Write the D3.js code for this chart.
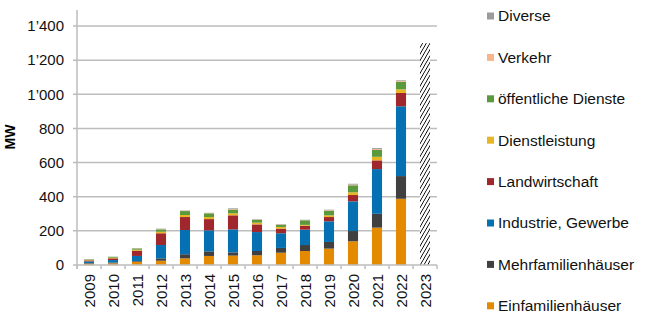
<!DOCTYPE html>
<html>
<head>
<meta charset="utf-8">
<script src="https://cdn.jsdelivr.net/npm/d3@7"></script>
<style>
  body { margin: 0; background: #fff; }
  svg { font-family: "Liberation Sans", Arial, sans-serif; }
</style>
</head>
<body>
<svg width="653" height="325"></svg>
<script>
const years = ["2009","2010","2011","2012","2013","2014","2015","2016","2017","2018","2019","2020","2021","2022","2023"];
const series = ["Einfamilienhäuser","Mehrfamilienhäuser","Industrie, Gewerbe","Landwirtschaft","Dienstleistung","öffentliche Dienste","Verkehr","Diverse"];
const colors = ["#e38a00","#404040","#0571b3","#a0282c","#e8b623","#5b9a3c","#f9b48a","#9b9b9b"];

// values per series, one per year (2023 only as forecast)
const einfamilien   = [8, 10, 19, 25, 39, 53, 55, 57, 72, 82, 96, 139, 219, 388, 0];
const mehrfamilien  = [3, 4, 4, 14, 24, 27, 19, 25, 28, 35, 39, 60, 81, 133, 0];
const industrie     = [10, 15, 30, 78, 142, 123, 135, 111, 86, 90, 121, 174, 262, 409, 0];
const landwirt      = [6, 10, 31, 69, 76, 66, 82, 45, 27, 23, 25, 37, 51, 78, 0];
const dienstleist   = [3, 4, 6, 9, 12, 12, 12, 10, 10, 5, 10, 16, 21, 21, 0];
const oeffentlich   = [3, 5, 7, 14, 23, 22, 22, 17, 13, 27, 27, 41, 40, 45, 0];
const verkehr       = [0.5, 0.5, 1, 2, 2, 2, 3, 2, 2, 1, 3, 4, 5, 4, 0];
const diverse       = [1, 0.5, 1, 2, 2, 1, 4, 2, 2, 2, 3, 5, 6, 4, 0];
const forecast2023  = 1300;

const yTicks = [0, 200, 400, 600, 800, 1000, 1200, 1400];

const cols = [einfamilien, mehrfamilien, industrie, landwirt, dienstleist, oeffentlich, verkehr, diverse];
const table = years.map((y, i) => {
  const row = { year: y };
  series.forEach((s, k) => row[s] = cols[k][i]);
  return row;
});

const svg = d3.select("svg");
const plotL = 77, plotR = 437, plotT = 9, plotB = 265;

const x = d3.scaleBand().domain(years).range([plotL, plotR]).paddingInner(0.58).paddingOuter(0.29);
const y = d3.scaleLinear().domain([0, 1500]).range([plotB, plotT]);

const fmt = d => d3.format(",")(d).replace(",", "\u2019");

// gridlines
svg.append("g").selectAll("line").data(yTicks.filter(d => d > 0)).join("line")
  .attr("x1", plotL - 4).attr("x2", plotR)
  .attr("y1", d => y(d)).attr("y2", d => y(d))
  .attr("stroke", "#bdbdbd").attr("stroke-width", 1.5);

// y labels
svg.append("g").selectAll("text").data(yTicks).join("text")
  .attr("x", 64).attr("y", d => y(d)).attr("dy", "0.35em")
  .attr("text-anchor", "end").attr("font-size", 15).attr("fill", "#111")
  .text(fmt);

svg.append("line").attr("x1", plotL - 4).attr("x2", plotL).attr("y1", plotB).attr("y2", plotB)
  .attr("stroke", "#bdbdbd").attr("stroke-width", 1.5);

svg.append("text")
  .attr("transform", `translate(15,137) rotate(-90)`)
  .attr("text-anchor", "middle").attr("font-size", 14).attr("font-weight", "bold")
  .text("MW");

// hatch pattern
const pat = svg.append("defs").append("pattern")
  .attr("id", "hatch").attr("patternUnits", "userSpaceOnUse")
  .attr("width", 3.2).attr("height", 3.2)
  .attr("patternTransform", "rotate(30)");
pat.append("rect").attr("width", 3.2).attr("height", 3.2).attr("fill", "#fff");
pat.append("line").attr("x1", 0).attr("y1", 0).attr("x2", 0).attr("y2", 3.2)
  .attr("stroke", "#000").attr("stroke-width", 1.6);

// stacked bars
const stack = d3.stack().keys(series)(table);
svg.append("g").selectAll("g").data(stack).join("g")
  .attr("fill", (d, i) => colors[i])
  .selectAll("rect").data(d => d.filter(p => p[1] > p[0])).join("rect")
  .attr("x", d => x(d.data.year)).attr("width", x.bandwidth())
  .attr("y", d => y(d[1])).attr("height", d => y(d[0]) - y(d[1]));

// 2023 forecast
svg.append("rect")
  .attr("x", x("2023")).attr("width", x.bandwidth())
  .attr("y", y(forecast2023)).attr("height", y(0) - y(forecast2023))
  .attr("fill", "url(#hatch)");

// y axis line
svg.append("line").attr("x1", plotL).attr("x2", plotL).attr("y1", plotT + 1).attr("y2", plotB + 4)
  .attr("stroke", "#bdbdbd").attr("stroke-width", 1.5);

// x axis
svg.append("line").attr("x1", plotL).attr("x2", plotR).attr("y1", plotB).attr("y2", plotB)
  .attr("stroke", "#bdbdbd").attr("stroke-width", 1.5);
const step = x.step();
svg.append("g").selectAll("line").data(d3.range(years.length + 1)).join("line")
  .attr("x1", i => plotL + i * step).attr("x2", i => plotL + i * step)
  .attr("y1", plotB).attr("y2", plotB + 4)
  .attr("stroke", "#bdbdbd").attr("stroke-width", 1.5);

svg.append("g").selectAll("text").data(years).join("text")
  .attr("transform", d => `translate(${x(d) + x.bandwidth() / 2 + 5.5},274) rotate(-90)`)
  .attr("text-anchor", "end").attr("font-size", 15).attr("fill", "#111")
  .text(d => d);

// legend
const leg = svg.append("g").selectAll("g").data(series.slice().reverse()).join("g")
  .attr("transform", (d, i) => `translate(487,${16 + i * 41.4})`);
leg.append("rect").attr("x", 0).attr("y", -3.5).attr("width", 7).attr("height", 7)
  .attr("fill", d => colors[series.indexOf(d)]);
leg.append("text").attr("x", 11).attr("dy", "0.35em").attr("font-size", 15.5).attr("fill", "#111")
  .text(d => d);
</script>
</body>
</html>
